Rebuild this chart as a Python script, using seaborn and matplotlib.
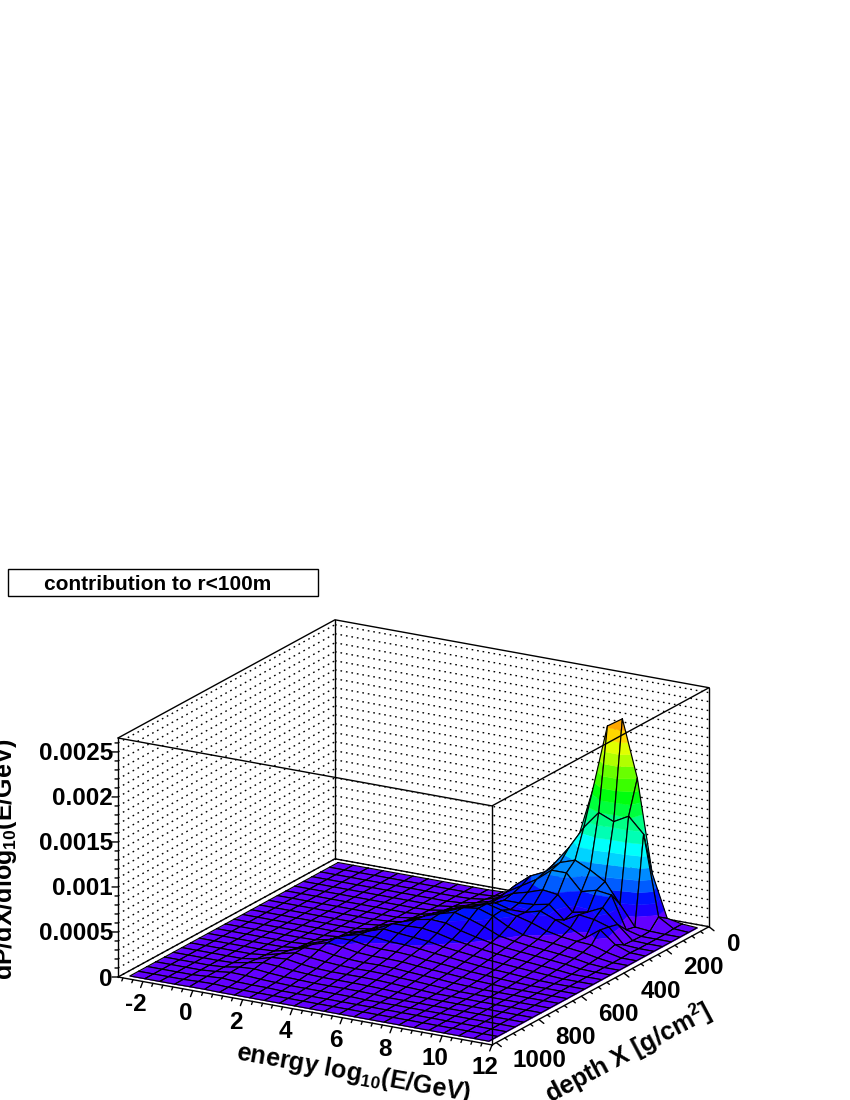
import colorsys
import numpy as np
import matplotlib
matplotlib.use("Agg")
import matplotlib.pyplot as plt
import seaborn as sns
from matplotlib.patches import Rectangle
from mpl_toolkits.mplot3d import proj3d
from mpl_toolkits.mplot3d.art3d import Poly3DCollection

# bin centres of the histogram
energy_nodes = np.arange(25) * 0.6 - 2.7
depth_nodes = np.arange(25) * 40.8 + 20.4

# dP/dX/dlog10E in units of 1e-5, one list per energy bin, depth bins from X=0 down
col_00 = [0] * 25
col_01 = [0] * 25
col_02 = [0] * 25
col_03 = [0] * 25
col_04 = [0, 0, 0, 0, 0, 0, 0, 0, 0, 0, 0, 0, 0, 0, 0, 0, 0, 0, 0, .6, 1.1, 1.3, 1.1, .7, .2]
col_05 = [0, 0, 0, 0, 0, 0, 0, 0, 0, 0, 0, 0, 0, 0, 0, .3, .8, 1.7, 2.4, 3.6, 3.9, 3.3, 2.2, 1.1, .3]
col_06 = [0, 0, 0, 0, 0, 0, 0, 0, 0, 0, 0, 0, 0, .4, 1.1, 2.2, 4.4, 6.1, 7.2, 6.7, 5, 2.8, 1.1, .3, 0]
col_07 = [0, 0, 0, 0, 0, 0, 0, 0, 0, 0, .3, .9, 1.7, 3.9, 6.7, 8.9, 10.5, 10, 8.3, 5.6, 3.3, 1.7, .6, 0, 0]
col_08 = [0, 0, 0, 0, 0, 0, 0, 0, .9, 1.7, 2.8, 5.6, 8.3, 11.1, 13.9, 13.9, 11.1, 7.8, 5.6, 3.9, 2.2, 1.1, .6, 0, 0]
col_09 = [0, 0, 0, 0, 0, .6, 1.1, 2.2, 3.3, 6.1, 8.9, 11.7, 13.9, 15.5, 14.4, 11.7, 8.3, 6.1, 3.9, 2.8, 1.7, .6, 0, 0, 0]
col_10 = [0, 0, .6, 1.1, 2.2, 3.3, 5, 7.2, 10.5, 13.3, 16.7, 20, 19.4, 15.5, 11.7, 8.9, 6.7, 5, 3.3, 2.2, 1.1, .6, 0, 0, 0]
col_11 = [.6, 1.1, 2.8, 4.4, 6.7, 9.4, 12.8, 16.1, 18.9, 21.1, 22.2, 20.5, 17.5, 13.5, 10.5, 8, 6, 4.5, 3.3, 2.2, 1.2, .6, 0, 0, 0]
col_12 = [3.3, 5.6, 7.8, 8.9, 11.1, 13.9, 17.8, 21.1, 24.4, 26.6, 25.5, 21, 16, 13, 10.5, 8, 6.3, 4.8, 3.4, 2.2, 1.3, .6, 0, 0, 0]
col_13 = [6.7, 13.3, 24.4, 22.2, 20, 18.9, 22.2, 26.6, 31.1, 31.1, 24.4, 18.5, 14.5, 11.5, 9.5, 7.5, 5.8, 4.4, 3.2, 2, 1.2, .5, 0, 0, 0]
col_14 = [15.5, 27.8, 37.7, 32.2, 28.9, 26.6, 28.9, 33.3, 33.3, 26.6, 19, 14.5, 11.5, 9.5, 7.5, 6, 4.6, 3.4, 2.4, 1.5, .8, 0, 0, 0, 0]
col_15 = [33.3, 48.8, 45.5, 42.2, 33.3, 26.6, 24.4, 28.9, 27.8, 21, 15, 12, 9.5, 8, 6.2, 4.8, 3.6, 2.6, 1.6, .8, 0, 0, 0, 0, 0]
col_16 = [73.3, 69.9, 58.8, 55.5, 38.9, 27.8, 24.4, 25.5, 19, 14, 11.5, 9.5, 7.8, 6.2, 4.8, 3.6, 2.6, 1.6, .8, 0, 0, 0, 0, 0, 0]
col_17 = [131, 95.5, 64.4, 55.5, 36.6, 31.1, 28.9, 21, 13, 11, 9, 7.5, 6, 4.6, 3.4, 2.4, 1.4, .7, 0, 0, 0, 0, 0, 0, 0]
col_18 = [206, 115, 56.6, 37.7, 20, 16.7, 22.2, 15, 11, 9, 7.5, 6, 4.6, 3.4, 2.4, 1.4, .7, 0, 0, 0, 0, 0, 0, 0, 0]
col_19 = [217, 108, 46.6, 42.2, 23.3, 25.5, 16, 11.5, 9.5, 7.5, 6, 4.6, 3.4, 2.4, 1.4, .7, 0, 0, 0, 0, 0, 0, 0, 0, 0]
col_20 = [154, 117, 24.4, 40, 31.1, 23.3, 8, 9.5, 7.5, 5.8, 4.4, 3.2, 2.2, 1.3, .6, 0, 0, 0, 0, 0, 0, 0, 0, 0, 0]
col_21 = [51, 100, 2.2, 4.4, 15.5, 18, 20, 8.5, 5.5, 4, 2.8, 1.8, 1, .4, 0, 0, 0, 0, 0, 0, 0, 0, 0, 0, 0]
col_22 = [4.4, 11.1, .6, 0, .6, 1.1, 6.7, 3.5, 2.2, 1.2, .6, 0, 0, 0, 0, 0, 0, 0, 0, 0, 0, 0, 0, 0, 0]
col_23 = [1.1, 1.1, 0, 0, 0, 0, .6, 0, 0, 0, 0, 0, 0, 0, 0, 0, 0, 0, 0, 0, 0, 0, 0, 0, 0]
col_24 = [0] * 25

energy_ticks = [-2, 0, 2, 4, 6, 8, 10, 12]
energy_tick_labels = ["-2", "0", "2", "4", "6", "8", "10", "12"]
depth_ticks = [0, 200, 400, 600, 800, 1000]
depth_tick_labels = ["0", "200", "400", "600", "800", "1000"]
z_ticks = [0, 0.0005, 0.001, 0.0015, 0.002, 0.0025]
z_tick_labels = ["0", "0.0005", "0.001", "0.0015", "0.002", "0.0025"]

E_MIN, E_MAX = -3, 12
X_MIN, X_MAX = 0, 1020
Z_TOP = 0.002655
N_LEVELS = 20
LEVEL_W = 1.278e-4

z_grid = np.column_stack([
    col_00, col_01, col_02, col_03, col_04, col_05, col_06, col_07, col_08, col_09,
    col_10, col_11, col_12, col_13, col_14, col_15, col_16, col_17, col_18, col_19,
    col_20, col_21, col_22, col_23, col_24,
]) * 1e-5

sns.set_theme(style="white", rc={"axes.facecolor": "none"})
plt.rcParams["font.family"] = ["Liberation Sans", "DejaVu Sans"]
plt.rcParams["mathtext.fontset"] = "custom"
plt.rcParams["mathtext.rm"] = "Liberation Sans:bold"
plt.rcParams["mathtext.it"] = "Liberation Sans:bold"
plt.rcParams["mathtext.bf"] = "Liberation Sans:bold"
plt.rcParams["mathtext.default"] = "rm"


def root_palette():
    # the rainbow ROOT uses, sampled for 20 contour levels
    colors = []
    for level in range(N_LEVELS):
        idx = int((level + 1.0) * 50 / N_LEVELS)
        hue = 280 - (idx + 1) * 5.6
        colors.append(colorsys.hls_to_rgb(hue / 360, 0.5, 1.0))
    return sns.color_palette(colors)


def clip_z(poly, limit, keep_above):
    out = []
    for k in range(len(poly)):
        p, q = poly[k], poly[(k + 1) % len(poly)]
        p_in = p[2] >= limit if keep_above else p[2] <= limit
        q_in = q[2] >= limit if keep_above else q[2] <= limit
        if p_in:
            out.append(p)
        if p_in != q_in:
            t = (limit - p[2]) / (q[2] - p[2])
            out.append(tuple(p[n] + t * (q[n] - p[n]) for n in range(3)))
    return out


def screen_shift(dx, dy):
    # pixel offset on the page -> offset in energy and depth on the floor
    a, b = np.linalg.solve([[374, 217], [68, -118]], [dx, dy])
    return a * (E_MAX - E_MIN), -b * (X_MAX - X_MIN)


fig = plt.figure(figsize=(8.5, 11), dpi=100)
fig.patch.set_facecolor("white")

size = 640.0
ax = fig.add_axes([(413 - size / 2) / 850, (268 - size / 2) / 1100, size / 850, size / 1100],
                  projection="3d", proj_type="ortho", computed_zorder=False)
ax.view_init(elev=18.33, azim=-60)
ax.set_box_aspect((431.9, 434.0, 251.8))
ax.set_xlim(E_MIN, E_MAX, view_margin=0)
ax.set_ylim(X_MAX, X_MIN, view_margin=0)
ax.set_zlim(0, Z_TOP, view_margin=0)
ax.set_axis_off()


def to_px(e, x, z):
    u, v, _ = proj3d.proj_transform(e, x, z, ax.get_proj())
    return ax.transData.transform((u, v))


# put the box where it sits on the page
fig.canvas.draw()
left = to_px(E_MIN, X_MAX, 0)
right = to_px(E_MAX, X_MIN, 0)
scale = 591 / (right[0] - left[0])
old = ax.get_position().bounds
ax_x = 118 - (left[0] - old[0] * 850) * scale
ax_y = 123 - (left[1] - old[1] * 1100) * scale
size *= scale
ax.set_position([ax_x / 850, ax_y / 1100, size / 850, size / 1100])
fig.canvas.draw()

line_kw = dict(color="black", lw=1.0, clip_on=False)
dot_kw = dict(color="black", lw=1.0, ls=(0, (1.2, 2.8)), clip_on=False, zorder=1)
label_kw = dict(fontsize=17.5, fontweight="bold", color="black", va="center")


def tick_label(e, x, z, off_x, off_y, text, ha):
    # label sits a fixed number of pixels away from its tick
    px, py = to_px(e, x, z)
    fig.text((px + off_x) / 850, (py - off_y) / 1100, text, ha=ha, **label_kw)


# back walls with the dotted z grid
for z in np.arange(0, 27) * 1e-4:
    ax.plot([E_MIN, E_MIN], [X_MAX, X_MIN], [z, z], **dot_kw)
    ax.plot([E_MIN, E_MAX], [X_MIN, X_MIN], [z, z], **dot_kw)

ax.plot([E_MIN, E_MIN, E_MAX], [X_MAX, X_MIN, X_MIN], [0, 0, 0], zorder=2, **line_kw)
ax.plot([E_MAX, E_MIN, E_MIN], [X_MIN, X_MIN, X_MAX], [Z_TOP, Z_TOP, Z_TOP], zorder=2, **line_kw)
ax.plot([E_MIN, E_MIN], [X_MIN, X_MIN], [0, Z_TOP], zorder=2, **line_kw)
ax.plot([E_MAX, E_MAX], [X_MIN, X_MIN], [0, Z_TOP], zorder=2, **line_kw)
ax.plot([E_MIN, E_MIN], [X_MAX, X_MAX], [0, Z_TOP], zorder=2, **line_kw)

# surface, painted from the far corner to the near one
palette = root_palette()
order = 10
for j in range(len(depth_nodes) - 1):
    for i in range(len(energy_nodes) - 1):
        corners = [(i, j), (i + 1, j), (i + 1, j + 1), (i, j + 1)]
        quad = [(energy_nodes[a], depth_nodes[b], z_grid[b, a]) for a, b in corners]
        polys, colors = [], []
        for level in range(N_LEVELS):
            part = clip_z(quad, level * LEVEL_W, True)
            if len(part) >= 3:
                part = clip_z(part, (level + 1) * LEVEL_W, False)
            if len(part) >= 3:
                polys.append(part)
                colors.append(palette[level])
        coll = Poly3DCollection(polys, facecolors=colors, edgecolors=colors,
                                linewidths=0.3, zorder=order)
        ax.add_collection3d(coll, autolim=False)
        xs, ys, zs = zip(*(quad + quad[:1]))
        ax.plot(xs, ys, zs, color="black", lw=0.85, clip_on=False, zorder=order + 0.5)
        order += 1

# front edges of the box lie over everything
top = order + 10
ax.plot([E_MIN, E_MAX, E_MAX], [X_MAX, X_MAX, X_MIN], [Z_TOP, Z_TOP, Z_TOP], zorder=top, **line_kw)
ax.plot([E_MAX, E_MAX], [X_MAX, X_MAX], [0, Z_TOP], zorder=top, **line_kw)
ax.plot([E_MIN, E_MAX, E_MAX], [X_MAX, X_MAX, X_MIN], [0, 0, 0], zorder=top, **line_kw)

# z axis
for z in np.arange(0, 27) * 1e-4:
    is_major = round(z * 1e4) % 5 == 0
    de, dx = screen_shift(-6 if is_major else -3, 0)
    ax.plot([E_MIN, E_MIN + de], [X_MAX, X_MAX + dx], [z, z], zorder=top, **line_kw)
for z, text in zip(z_ticks, z_tick_labels):
    tick_label(E_MIN, X_MAX, z, -5, 2, text, "right")

# energy axis
for e in np.arange(-7, 36) * 0.4:
    is_major = abs(e / 2 - round(e / 2)) < 1e-6
    if e < E_MIN or e > E_MAX:
        continue
    f = 1.0 if is_major else 0.5
    de, dx = screen_shift(-2.3 * f, 6 * f)
    ax.plot([e, e + de], [X_MAX, X_MAX + dx], [0, 0], zorder=top, **line_kw)
for e, text in zip(energy_ticks, energy_tick_labels):
    tick_label(e, X_MAX, 0, -7, 23, text, "center")

# depth axis
for x in np.arange(0, 26) * 40:
    f = 1.0 if x % 200 == 0 else 0.5
    de, dx = screen_shift(5 * f, 4 * f)
    ax.plot([E_MAX, E_MAX + de], [x, x + dx], [0, 0], zorder=top, **line_kw)
for x, text in zip(depth_ticks, depth_tick_labels):
    tick_label(E_MAX, x, 0, 25 + 6 * (len(text) - 1), 18, text, "center")

# axis titles and the label box
title_kw = dict(fontsize=18, fontweight="bold", color="black", rotation_mode="anchor",
                ha="center", va="center")
fig.text(354 / 850, 1 - 1073 / 1100, r"energy log$_{10}$(E/GeV)", rotation=-10.2, **title_kw)
fig.text(628 / 850, 1 - 1053 / 1100, r"depth X [g/cm$^{2}$]", rotation=28, **title_kw)
fig.text(5 / 850, 1 - 859 / 1100, r"dP/dX/dlog$_{10}$(E/GeV)", rotation=90, **title_kw)

fig.add_artist(Rectangle((8 / 850, 1 - 596 / 1100), 310 / 850, 27 / 1100, transform=fig.transFigure,
                         facecolor="white", edgecolor="black", lw=1.0))
fig.text(158 / 850, 1 - 584.5 / 1100, "contribution to r<100m", fontsize=15, fontweight="bold",
         color="black", ha="center", va="center")

fig.savefig("out.png", dpi=100)
